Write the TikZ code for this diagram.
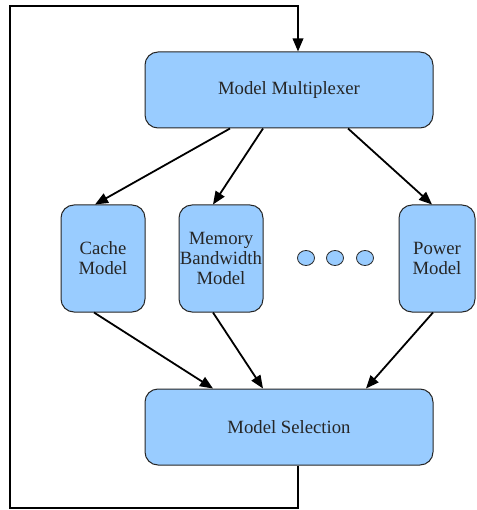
\documentclass[tikz,border=0pt]{standalone}
\usepackage{fontspec}
\setmainfont{Liberation Serif}
\usetikzlibrary{arrows.meta,calc,shapes.geometric}
\definecolor{boxfill}{HTML}{99CCFF}
\definecolor{ink}{HTML}{262626}
\tikzset{
  blk/.style={draw=ink, line width=1pt, fill=boxfill, rounded corners=13pt,
    inner sep=0pt, align=center, text=ink,
    font=\fontsize{18.7}{19.8}\selectfont},
  dotnode/.style={draw=ink, line width=0.8pt, fill=boxfill, ellipse,
    minimum width=17pt, minimum height=15pt, inner sep=0pt},
  arr/.style={line width=1.8pt, draw=black,
    -{Triangle[length=13pt,width=10.5pt]}}
}
\begin{document}
\begin{tikzpicture}[x=1pt,y=1pt]
  \useasboundingbox (0,0) rectangle (476,-510);

  % main blocks
  \node[blk, minimum width=288pt, minimum height=76pt] (mux) at (289,-90) {Model Multiplexer};
  \node[blk, minimum width=288pt, minimum height=76pt] (sel) at (289,-427) {Model Selection};

  % individual models
  \node[blk, minimum width=84pt, minimum height=107pt] (cache) at (103,-258.5) {Cache\\Model};
  \node[blk, minimum width=84pt, minimum height=107pt] (mem) at (221,-258.5) {Memory\\Bandwidth\\Model};
  \node[blk, minimum width=76pt, minimum height=107pt] (power) at (437,-258.5) {Power\\Model};

  % ellipsis between the models
  \node[dotnode] (d1) at (306,-258) {};
  \node[dotnode] (d2) at (335,-258) {};
  \node[dotnode] (d3) at (365,-258) {};

  % multiplexer to models
  \draw[arr] ([xshift=-59pt]mux.south) -- ([xshift=-8pt]cache.north);
  \draw[arr] ([xshift=-26pt]mux.south) -- ([xshift=-8pt]mem.north);
  \draw[arr] ([xshift=59pt]mux.south) -- ([xshift=-5pt]power.north);

  % models to selection
  \draw[arr] ([xshift=-9pt]cache.south) -- ([xshift=-76pt]sel.north);
  \draw[arr] ([xshift=-8pt]mem.south) -- ([xshift=-26pt]sel.north);
  \draw[arr] ([xshift=-4pt]power.south) -- ([xshift=77pt]sel.north);

  % feedback loop from selection back to multiplexer
  \coordinate (lb) at (10,-508);
  \coordinate (lt) at (10,-6);
  \draw[arr] ([xshift=9pt]sel.south) |- (lb) -- (lt) -| ([xshift=9pt]mux.north);
\end{tikzpicture}
\end{document}
